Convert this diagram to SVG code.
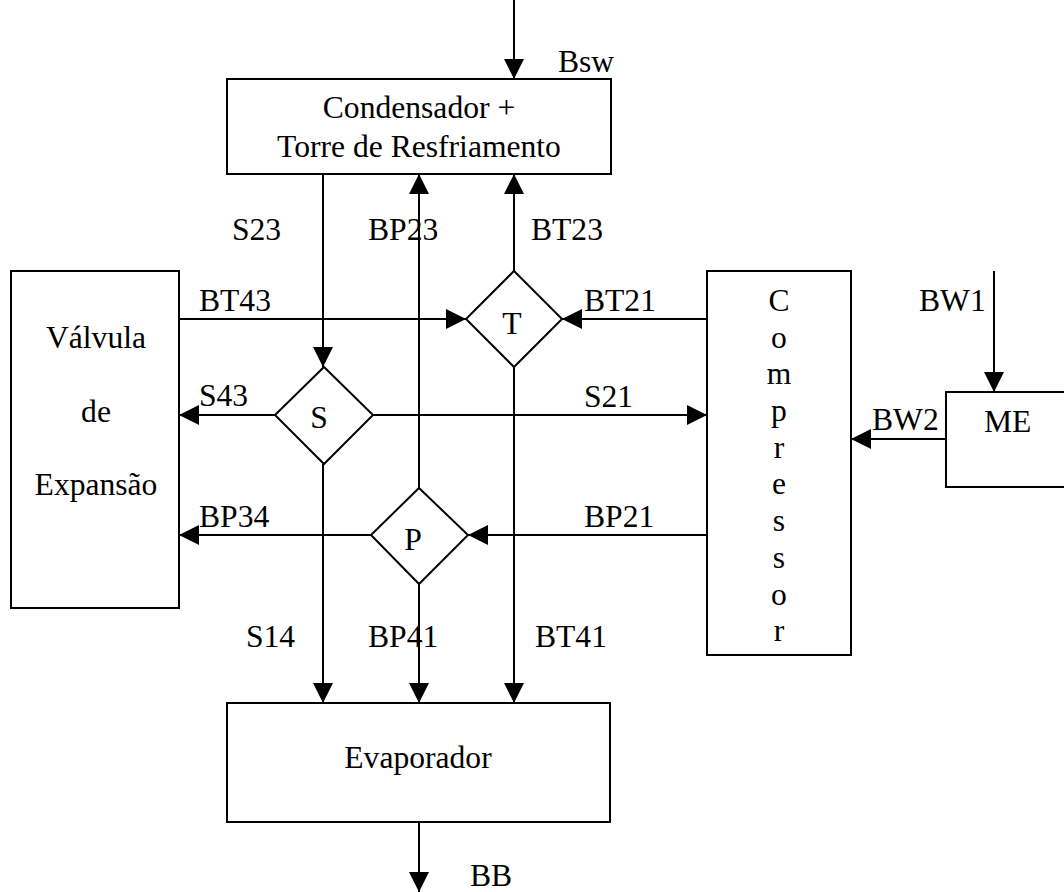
<svg xmlns="http://www.w3.org/2000/svg" width="1064" height="892" viewBox="0 0 1064 892" font-family="'Liberation Serif', 'Times New Roman', serif" font-size="31.6">
<style>
.box{fill:#fff;stroke:#000;stroke-width:2}
.ln{fill:none;stroke:#000;stroke-width:2;marker-end:url(#ah)}
.t{font-family:'Liberation Serif','Times New Roman',serif;font-size:31.6px;fill:#000}
.c{text-anchor:middle}
</style>
<defs>
<marker id="ah" markerUnits="userSpaceOnUse" markerWidth="20" markerHeight="20" refX="20" refY="10" orient="auto">
<path d="M0,0 L20,10 L0,20 z" fill="#000"/>
</marker>
</defs>
<rect width="1064" height="892" fill="#fff"/>
<g id="connectors">
<line class="ln" x1="514" y1="0" x2="514" y2="79"/>
<line class="ln" x1="323" y1="174" x2="323" y2="367"/>
<line class="ln" x1="323" y1="464" x2="323" y2="703"/>
<line class="ln" x1="419" y1="488" x2="419" y2="174"/>
<line class="ln" x1="419" y1="584" x2="419" y2="703"/>
<line class="ln" x1="514" y1="271" x2="514" y2="174"/>
<line class="ln" x1="514" y1="367" x2="514" y2="703"/>
<line class="ln" x1="179" y1="319" x2="466" y2="319"/>
<line class="ln" x1="707" y1="319" x2="562" y2="319"/>
<line class="ln" x1="275" y1="415" x2="179" y2="415"/>
<line class="ln" x1="373" y1="415" x2="707" y2="415"/>
<line class="ln" x1="371" y1="535" x2="179" y2="535"/>
<line class="ln" x1="707" y1="535" x2="468" y2="535"/>
<line class="ln" x1="946" y1="439" x2="851" y2="439"/>
<line class="ln" x1="994" y1="271" x2="994" y2="392"/>
<line class="ln" x1="419" y1="822" x2="419" y2="892"/>
</g>
<g id="labels">
<text class="t" x="558" y="72">Bsw</text>
<text class="t" x="232" y="240">S23</text>
<text class="t" x="368" y="240">BP23</text>
<text class="t" x="531" y="240">BT23</text>
<text class="t" x="199" y="311">BT43</text>
<text class="t" x="584" y="311">BT21</text>
<text class="t" x="919" y="311">BW1</text>
<text class="t" x="199" y="406">S43</text>
<text class="t" x="584" y="407">S21</text>
<text class="t" x="872" y="430">BW2</text>
<text class="t" x="199" y="527">BP34</text>
<text class="t" x="584" y="527">BP21</text>
<text class="t" x="246" y="647">S14</text>
<text class="t" x="368" y="647">BP41</text>
<text class="t" x="535" y="647">BT41</text>
<text class="t" x="470" y="886">BB</text>
</g>
<g id="condensador">
<rect class="box" x="227" y="79" width="384" height="95"/>
<text class="t c" x="419" y="118">Condensador +</text>
<text class="t c" x="419" y="157">Torre de Resfriamento</text>
</g>
<g id="valvula">
<rect class="box" x="11" y="271" width="168" height="337"/>
<text class="t c" x="96" y="348">Válvula</text>
<text class="t c" x="96" y="422">de</text>
<text class="t c" x="96" y="495">Expansão</text>
</g>
<g id="T">
<polygon class="box" points="514,271 562,319 514,367 466,319"/>
<text class="t c" x="512" y="334">T</text>
</g>
<g id="S">
<polygon class="box" points="324,367 373,415 324,464 275,415"/>
<text class="t c" x="319" y="428">S</text>
</g>
<g id="P">
<polygon class="box" points="419,488 468,535 419,584 371,535"/>
<text class="t c" x="413" y="550">P</text>
</g>
<g id="compressor">
<rect class="box" x="707" y="271" width="144" height="384"/>
<text class="t c" x="779" y="311">C</text>
<text class="t c" x="779" y="348">o</text>
<text class="t c" x="779" y="384">m</text>
<text class="t c" x="779" y="421">p</text>
<text class="t c" x="779" y="458">r</text>
<text class="t c" x="779" y="494">e</text>
<text class="t c" x="779" y="531">s</text>
<text class="t c" x="779" y="568">s</text>
<text class="t c" x="779" y="605">o</text>
<text class="t c" x="779" y="641">r</text>
</g>
<g id="ME">
<rect class="box" x="946" y="392" width="130" height="95"/>
<text class="t" x="984" y="432">ME</text>
</g>
<g id="evaporador">
<rect class="box" x="227" y="703" width="383" height="119"/>
<text class="t c" x="418" y="768">Evaporador</text>
</g>
</svg>
